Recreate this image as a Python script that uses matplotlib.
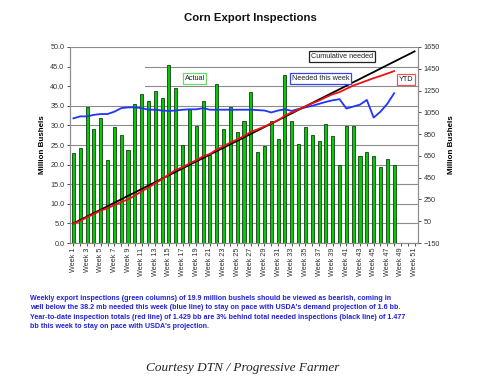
import matplotlib
matplotlib.use("Agg")
import matplotlib.pyplot as plt
from matplotlib.patches import Rectangle

# DADOS DO GRAFICO
semanas = ["Week " + str(i) for i in range(1, 52)]

# inspecoes semanais (colunas verdes), milhoes de bushels
inspecoes = [23.0, 24.3, 34.8, 29.2, 31.8, 21.3, 29.6, 27.6, 23.8, 35.4,
             38.0, 36.1, 38.9, 36.9, 45.3, 39.6, 25.1, 34.1, 29.9, 36.1,
             22.4, 40.5, 29.2, 34.8, 28.4, 31.1, 38.6, 23.1, 24.7, 31.0,
             26.5, 42.9, 31.1, 25.2, 29.6, 27.6, 25.9, 30.3, 27.3, 19.8,
             29.9, 29.9, 22.2, 23.3, 22.2, 19.5, 21.5, 19.9]

# necessario nesta semana (linha azul), eixo esquerdo
necessario_semana = [31.8, 32.3, 32.3, 32.7, 32.9, 32.9, 33.5, 34.4, 34.6, 34.6,
                     34.4, 34.0, 34.0, 33.8, 33.7, 33.8, 34.0, 34.1, 34.1, 34.4,
                     34.0, 34.0, 34.0, 34.0, 34.0, 34.0, 34.0, 33.9, 33.8, 33.3,
                     33.8, 34.1, 33.7, 34.2, 34.6, 35.0, 35.5, 36.0, 36.4, 36.7,
                     34.3, 34.8, 35.3, 36.5, 32.0, 33.5, 35.5, 38.2]

# total acumulado no ano (linha vermelha), eixo direito
ytd = [28, 52, 87, 116, 148, 169, 199, 227, 250, 286,
       324, 360, 399, 436, 481, 521, 546, 580, 610, 646,
       668, 709, 738, 773, 801, 832, 871, 894, 919, 950,
       976, 1019, 1050, 1075, 1105, 1133, 1158, 1189, 1216, 1236,
       1266, 1296, 1318, 1341, 1364, 1384, 1406, 1429]

# acumulado necessario (linha preta), eixo direito
acumulado_necessario = [30, 62, 93, 125, 156, 188, 220, 251, 283, 314,
                        346, 378, 409, 441, 472, 504, 536, 567, 599, 630,
                        662, 694, 725, 757, 788, 820, 852, 883, 915, 946,
                        978, 1010, 1041, 1073, 1104, 1136, 1168, 1199, 1231, 1262,
                        1294, 1326, 1357, 1389, 1420, 1452, 1484, 1515, 1547, 1578,
                        1610]

texto = ("Weekly export inspections (green columns) of 19.9 million bushels should be viewed as bearish, coming in\n"
         "well below the 38.2 mb needed this week (blue line) to stay on pace with USDA's demand projection of 1.6 bb.\n"
         "Year-to-date inspection totals (red line) of 1.429 bb are 3% behind total needed inspections (black line) of 1.477\n"
         "bb this week to stay on pace with USDA's projection.")

plt.rcParams['font.family'] = ['Liberation Sans', 'DejaVu Sans']

fig = plt.figure(figsize=(5, 3.91), dpi=100)
ax = fig.add_axes([0.14, 0.3785, 0.696, 0.5013])
ax2 = ax.twinx()

x = list(range(1, len(semanas) + 1))
xb = x[:len(inspecoes)]

# COLUNAS E LINHAS
ax.bar(xb, inspecoes, width=0.45, color='#00cc00', edgecolor='#1a3a1a', linewidth=0.6, zorder=2)
ax.plot(xb, necessario_semana, color='#2233ff', linewidth=1.3, zorder=3)
ax2.plot(x, acumulado_necessario, color='black', linewidth=1.3, zorder=3)
ax2.plot(xb, ytd, color='#ee1111', linewidth=1.3, zorder=4)

# EIXOS
ax.set_xlim(0.5, len(semanas) + 0.5)
ax.set_ylim(0, 50)
ax.set_yticks([i * 5 for i in range(11)])
ax.set_yticklabels(["%.1f" % (i * 5) for i in range(11)])
ax2.set_ylim(-150, 1650)
ax2.set_yticks(list(range(-150, 1651, 200)))
ax.set_xticks(x)
ax.set_xticklabels([s if i % 2 == 0 else "" for i, s in enumerate(semanas)], rotation=90)
ax.grid(axis='y', color='#8c8c8c', linewidth=0.8, zorder=0)
ax.set_axisbelow(True)

for a in (ax, ax2):
    a.tick_params(labelsize=5.2, colors='#333333', length=2.5, width=0.6, pad=1.5)
    a.spines['top'].set_visible(False)
    a.spines['bottom'].set_color('#8c8c8c')
    a.spines['left'].set_color('#8c8c8c')
    a.spines['right'].set_color('#8c8c8c')
ax.tick_params(axis='x', length=2)

ax.set_ylabel("Million Bushels", fontsize=5.8, fontweight='bold', labelpad=3)
ax2.set_ylabel("Million Bushels", fontsize=5.8, fontweight='bold', rotation=90, labelpad=6)

# caixa branca escondendo parte da grade (legenda oculta)
ax.add_patch(Rectangle((0.0, 0.76), 0.215, 0.2, transform=ax.transAxes,
                       facecolor='white', edgecolor='none', zorder=1))

fig.text(0.5, 0.955, "Corn Export Inspections", ha='center', va='center',
         fontsize=8.2, fontweight='bold', color='#111111')

# ROTULOS DAS LINHAS
def caixa(xf, yf, txt, cor):
    fig.text(xf, yf, txt, ha='left', va='center', fontsize=5.2, color='#222222',
             bbox=dict(boxstyle='square,pad=0.25', facecolor='white', edgecolor=cor, linewidth=0.9))

caixa(0.369, 0.80, "Actual", '#66dd66')
caixa(0.583, 0.80, "Needed this week", '#3344ff')
caixa(0.622, 0.855, "Cumulative needed", '#222222')
caixa(0.797, 0.797, "YTD", '#ee5555')

fig.text(0.06, 0.245, texto, ha='left', va='top', fontsize=5.15, fontweight='bold',
         color='#2222dd', linespacing=1.45)

fig.text(0.486, 0.058, "Courtesy DTN / Progressive Farmer", ha='center', va='center',
         fontsize=9.5, style='italic', family='Liberation Serif', color='#222222')

fig.savefig("out.png", dpi=100)
